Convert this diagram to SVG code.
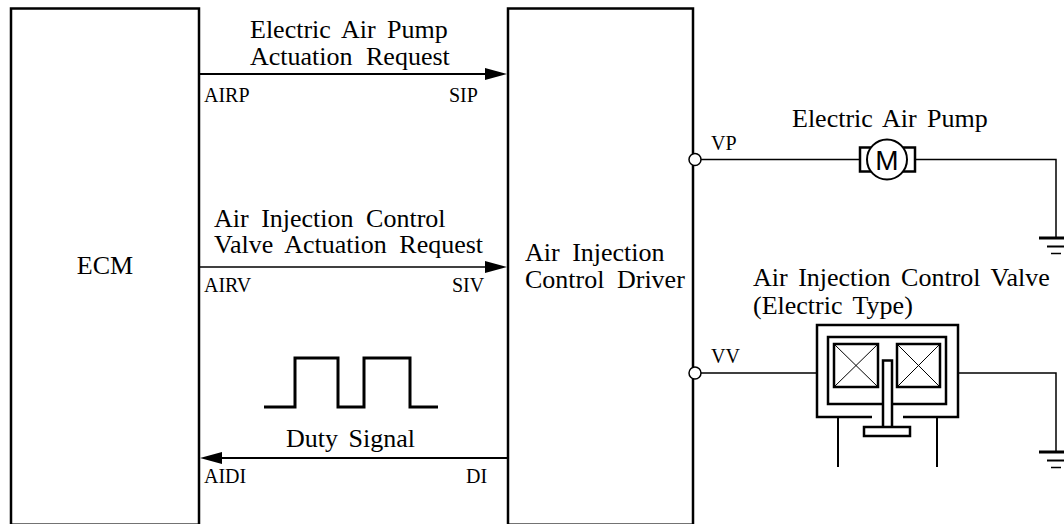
<svg xmlns="http://www.w3.org/2000/svg" width="1064" height="524" viewBox="0 0 1064 524">
<style>
text{font-family:"Liberation Serif","Times New Roman",serif;fill:#000}
.l{font-size:26px;word-spacing:4px}
.w{word-spacing:6px}
.s{font-size:20px}
.b{fill:none;stroke:#000;stroke-width:2.500}
.t{fill:none;stroke:#000;stroke-width:1.500}
.a{fill:none;stroke:#000;stroke-width:2}
.h{fill:none;stroke:#000;stroke-width:2.500}
</style>
<defs>
<g id="gnd"><path fill="none" stroke="#000" stroke-width="3" d="M-17 0H18"/><path fill="none" stroke="#000" stroke-width="2" d="M-9 8.500H9"/><path class="t" d="M-5 15.500H5"/></g>
</defs>
<rect width="1064" height="524" fill="#fff"/>
<g id="ecm"><rect class="b" x="11" y="8.500" width="188" height="516.200"/><text class="l" x="105" y="274" text-anchor="middle">ECM</text></g>
<g id="driver"><rect class="b" x="508" y="8.500" width="185" height="516.200"/><text class="l w" x="525" y="261">Air Injection</text><text class="l" x="525" y="288" style="word-spacing:6px">Control Driver</text></g>
<g id="connectors">
<path class="a" d="M199 74H490"/><path d="M507 74L485 68L485 80Z"/>
<path class="t" d="M199 267H490"/><path d="M507 267L485 261L485 273Z"/>
<path class="a" d="M508 458H220"/><path d="M200 458L222 452L222 464Z"/>
<path class="t" d="M701 159.500H860M916 159.500H1056V237"/>
<path class="t" d="M701 373H817M958 373H1056V452"/>
</g>
<g id="labels">
<text class="l" x="250" y="38" style="word-spacing:5px">Electric Air Pump</text><text class="l" x="250" y="65" style="word-spacing:7px">Actuation Request</text>
<text class="l w" x="214" y="227">Air Injection Control</text><text class="l w" x="214" y="253">Valve Actuation Request</text>
<text class="l" x="286" y="447">Duty Signal</text>
<text class="s" x="204" y="102">AIRP</text><text class="s" x="449" y="102">SIP</text>
<text class="s" x="204" y="292">AIRV</text><text class="s" x="452" y="292">SIV</text>
<text class="s" x="204" y="483">AIDI</text><text class="s" x="466" y="483">DI</text>
<text class="s" x="711" y="150">VP</text><text class="s" x="711" y="363">VV</text>
<text class="l" x="792" y="127">Electric Air Pump</text>
<text class="l" x="753" y="286">Air Injection Control Valve</text><text class="l" x="753" y="314">(Electric Type)</text>
</g>
<g id="vp-terminal"><circle cx="695" cy="159.500" r="6" fill="#fff" stroke="#000" stroke-width="1.500"/></g>
<g id="vv-terminal"><circle cx="695" cy="373" r="6" fill="#fff" stroke="#000" stroke-width="1.500"/></g>
<g id="duty-waveform"><path fill="none" stroke="#000" stroke-width="3" d="M264 407H295V358H338V407H364V358H410V407H438"/></g>
<g id="motor"><rect class="b" x="860" y="147.500" width="55" height="24"/><circle cx="887" cy="159.500" r="20" fill="#fff" stroke="#000" stroke-width="2"/><text x="887" y="170" text-anchor="middle" style="font-family:'Liberation Sans',sans-serif;font-size:28px">M</text></g>
<g id="ground-1"><use href="#gnd" x="1056" y="238"/></g>
<g id="ground-2"><use href="#gnd" x="1056" y="452"/></g>
<g id="valve">
<path class="h" d="M872 417H817V325H958V417H903"/>
<rect class="h" x="828" y="337" width="118" height="67"/>
<rect class="h" x="834" y="344" width="44" height="43" fill="#fff"/>
<rect class="h" x="897" y="344" width="43" height="43" fill="#fff"/>
<path stroke="#000" stroke-width="1" d="M834 344L878 387M878 344L834 387M897 387L940 344M897 344L940 387"/>
<path d="M883 427V360.500H892V427" fill="#fff" stroke="#000" stroke-width="2.500"/>
<rect x="864" y="427" width="46" height="9" fill="#fff" stroke="#000" stroke-width="2.500"/>
<path class="a" d="M838 417V467M937 417V467"/>
</g>
</svg>
